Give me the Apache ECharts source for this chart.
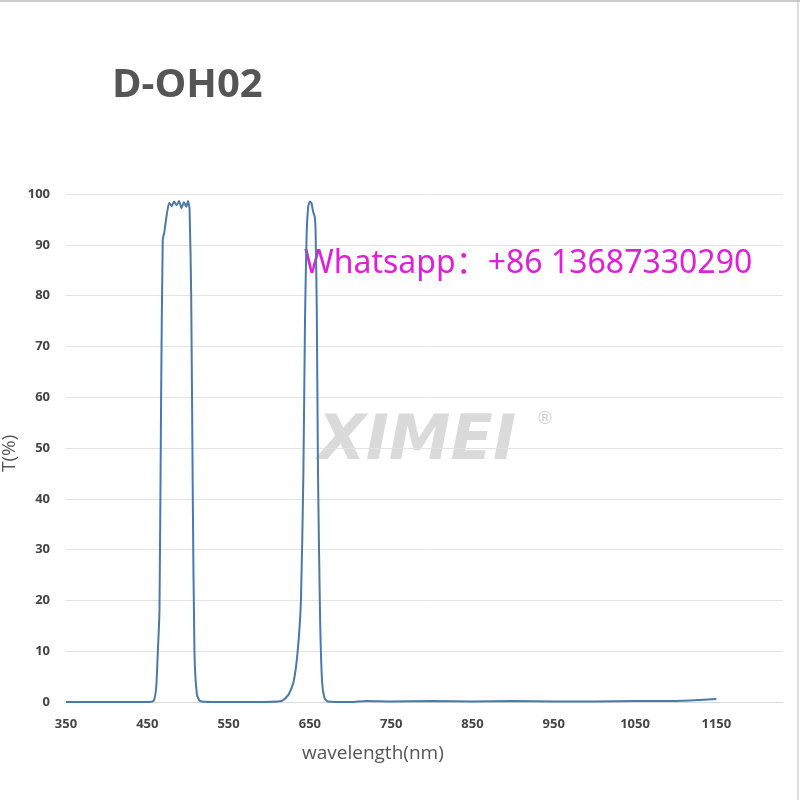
<!DOCTYPE html>
<html>
<head>
<meta charset="utf-8">
<script src="https://cdn.jsdelivr.net/npm/echarts@6/dist/echarts.min.js"></script>
<style>html,body{margin:0;padding:0;background:#fff}#chart{width:800px;height:800px}</style>
</head>
<body>
<div id="chart"></div>
<script>
// wavelength (nm) and transmission (%)
var wavelength = [350, 400, 450, 458, 461, 463, 465, 467, 469, 471, 474, 477, 480, 483, 486, 489, 492, 495, 498, 500, 502, 504, 506, 508, 511, 515, 530, 580, 615, 624, 630, 635, 639, 642, 644, 646, 648, 650, 652, 654, 656, 657, 658.5, 660, 662.5, 665, 668, 672, 700, 720, 750, 800, 850, 900, 950, 1000, 1050, 1100, 1130, 1150];
var transmission = [0, 0, 0, 0.3, 3, 10, 18, 60, 91, 92.5, 96, 98.3, 97.6, 98.5, 97.8, 98.6, 97.2, 98.4, 97.5, 98.6, 97, 80, 40, 10, 1.5, 0.2, 0, 0, 0.2, 1.5, 4, 10, 20, 45, 75, 92, 97.5, 98.5, 98.2, 96.5, 95.5, 93, 77, 45, 17, 4, 0.8, 0.1, 0, 0.2, 0.1, 0.2, 0.1, 0.2, 0.1, 0.1, 0.2, 0.2, 0.4, 0.6];
var yTicks = [0, 10, 20, 30, 40, 50, 60, 70, 80, 90, 100];

var points = wavelength.map(function (w, i) { return [w, transmission[i]]; });

var chart = echarts.init(document.getElementById('chart'));
chart.setOption({
    backgroundColor: '#fff',
    animation: false,
    grid: {left: 66, right: 17, top: 194, bottom: 98, outerBoundsMode: 'none', containLabel: false},
    graphic: [
        {type: 'text', left: 112, top: 66, style: {text: 'D-OH02', font: 'bold 40px "Open Sans", "DejaVu Sans", sans-serif', fill: '#555'}},
        {type: 'text', left: 318, top: 412, style: {text: 'XIMEI', font: 'italic bold 62px "DejaVu Sans", sans-serif', fill: 'rgba(150,150,150,0.35)'}},
        {type: 'text', left: 536, top: 410, style: {text: '®', font: '18px "DejaVu Sans", sans-serif', fill: 'rgba(150,150,150,0.45)'}},
        {type: 'text', left: 304, top: 248, style: {text: 'Whatsapp：+86 13687330290', font: '32px "Noto Sans", "Noto Sans CJK SC", sans-serif', fill: '#e020d8'}},
        {type: 'text', left: 302, top: 744, style: {text: 'wavelength(nm)', font: '19px "Open Sans", sans-serif', fill: '#555'}},
        {type: 'text', x: 0, y: 472, rotation: Math.PI / 2, style: {text: 'T(%)', font: '19px "Open Sans", sans-serif', fill: '#555'}},
        {type: 'line', shape: {x1: 0, y1: 1, x2: 800, y2: 1}, style: {stroke: '#999', lineWidth: 1}},
        {type: 'line', shape: {x1: 798, y1: 0, x2: 798, y2: 800}, style: {stroke: '#bbb', lineWidth: 1}}
    ],
    xAxis: {
        type: 'value', min: 350, max: 1232, interval: 100,
        axisLine: {lineStyle: {color: '#d9d9d9'}},
        axisTick: {show: false},
        splitLine: {show: false},
        axisLabel: {color: '#444', fontSize: 13, fontWeight: 'bold', margin: 16, showMaxLabel: false, fontFamily: 'Open Sans',
            formatter: function (v) { return String(v); }}
    },
    yAxis: {
        type: 'value', min: yTicks[0], max: yTicks[yTicks.length - 1], interval: 10,
        axisLine: {show: false},
        axisTick: {show: false},
        splitLine: {lineStyle: {color: '#e3e3e3'}},
        axisLabel: {color: '#444', fontSize: 13, fontWeight: 'bold', margin: 16, fontFamily: 'Open Sans'}
    },
    series: [{
        type: 'line', data: points, showSymbol: false, smooth: 0.2,
        lineStyle: {color: '#4a7aab', width: 2}
    }]
});
</script>
</body>
</html>
